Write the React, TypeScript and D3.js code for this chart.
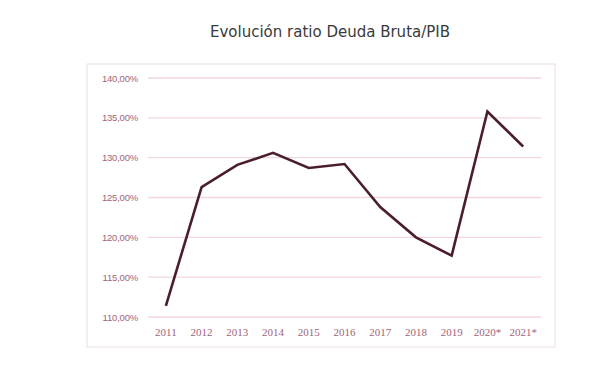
import React from "react";
import * as d3 from "d3";

const years = ["2011", "2012", "2013", "2014", "2015", "2016", "2017", "2018", "2019", "2020*", "2021*"];
const ratio = [111.4, 126.3, 129.1, 130.6, 128.7, 129.2, 123.8, 120.0, 117.7, 135.8, 131.4];
const yTicks = [110, 115, 120, 125, 130, 135, 140];

export default function App() {
  const W = 597, H = 378;
  const x = d3.scaleBand<string>().domain(years).range([148, 541]);
  const y = d3.scaleLinear().domain([110, 140]).range([317, 78]);
  const line = d3
    .line<number>()
    .x((_, i) => (x(years[i]) as number) + x.bandwidth() / 2)
    .y((d) => y(d));
  const fmt = (v: number) => v.toFixed(2).replace(".", ",") + "%";
  return (
    <svg width={W} height={H} style={{ position: "absolute", left: 0, top: 0, background: "#fff" }}>
      <text x={330} y={37} textAnchor="middle" fontFamily="DejaVu Sans, sans-serif" fontSize={15} fill="#3a3a3a">
        Evolución ratio Deuda Bruta/PIB
      </text>
      <rect x={87} y={64} width={468} height={283} fill="none" stroke="#ecdde2" strokeWidth={1} />
      {yTicks.map((t) => (
        <g key={t}>
          <line x1={148} x2={541} y1={y(t)} y2={y(t)} stroke="#f2d6de" strokeWidth={1.3} />
          <text x={138} y={y(t) + 3.5} textAnchor="end" fontFamily="Liberation Sans, sans-serif" fontSize={9.5} fill="#a06478" letterSpacing={-0.2}>
            {fmt(t)}
          </text>
        </g>
      ))}
      {years.map((yr) => (
        <text key={yr} x={(x(yr) as number) + x.bandwidth() / 2} y={336} textAnchor="middle" fontFamily="Liberation Serif, serif" fontSize={11} fill="#a06478">
          {yr}
        </text>
      ))}
      <path d={line(ratio) || ""} fill="none" stroke="#4b1e2e" strokeWidth={2.6} strokeLinejoin="miter" />
    </svg>
  );
}
